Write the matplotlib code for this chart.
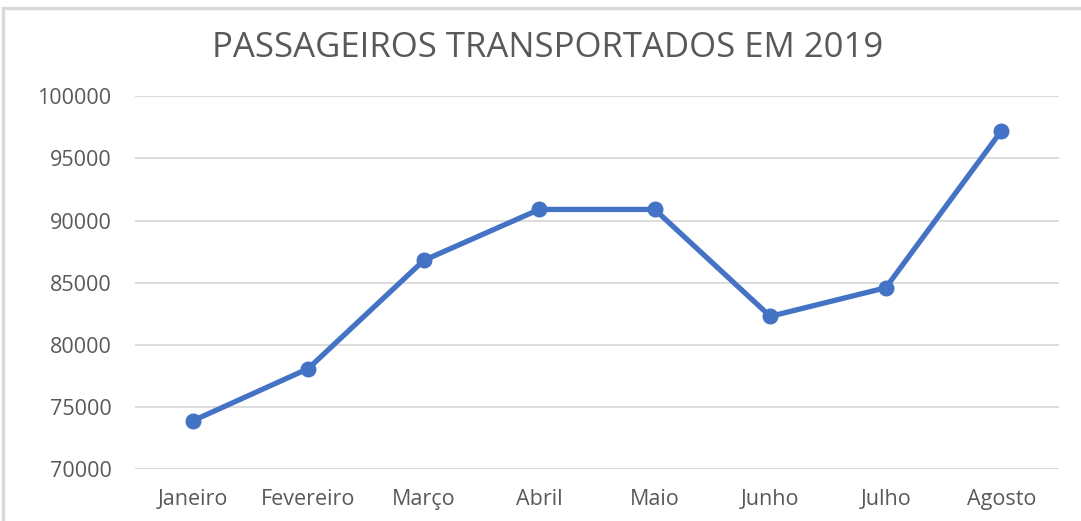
import matplotlib
matplotlib.use("Agg")
import matplotlib.pyplot as plt
from matplotlib.patches import Rectangle

months = ["Janeiro", "Fevereiro", "Março", "Abril", "Maio", "Junho", "Julho", "Agosto"]
passengers = [73900, 78100, 86800, 90900, 90900, 82300, 84600, 97200]
yticks = [70000, 75000, 80000, 85000, 90000, 95000, 100000]
title = "PASSAGEIROS TRANSPORTADOS EM 2019"

plt.rcParams['font.family'] = ['Open Sans', 'DejaVu Sans']

fig = plt.figure(figsize=(10.81, 5.21), dpi=100)
fig.patch.set_facecolor("white")
fig.patches.append(Rectangle((3/1081, -0.1), 1.2, 1 - 8/521 + 0.1, transform=fig.transFigure,
                             fill=False, edgecolor="#d9d9d9", linewidth=2.5))

ax = fig.add_axes([135/1081, 1 - 469.3/521, (1059 - 135)/1081, (469.3 - 96.3)/521])
x = list(range(len(months)))
ax.plot(x, passengers, color="#4472C4", linewidth=3.8, marker="o", markersize=10.5,
        solid_capstyle="round", solid_joinstyle="round", zorder=3)

ax.set_xlim(-0.5, len(months) - 0.5)
ax.set_ylim(70000, 100000)
ax.set_yticks(yticks)
ax.set_yticklabels([str(v) for v in yticks])
ax.set_xticks(x)
ax.set_xticklabels(months)
ax.grid(axis="y", color="#d9d9d9", linewidth=1.3)
ax.set_axisbelow(True)
for s in ax.spines.values():
    s.set_visible(False)
ax.tick_params(axis="both", length=0, colors="#595959", labelsize=15.5)
ax.tick_params(axis="y", pad=17)
ax.tick_params(axis="x", pad=14)

fig.text(548/1081, 1 - 48/521, title, ha="center", va="center", fontsize=25,
         color="#595959")

fig.savefig("out.png", dpi=100)
